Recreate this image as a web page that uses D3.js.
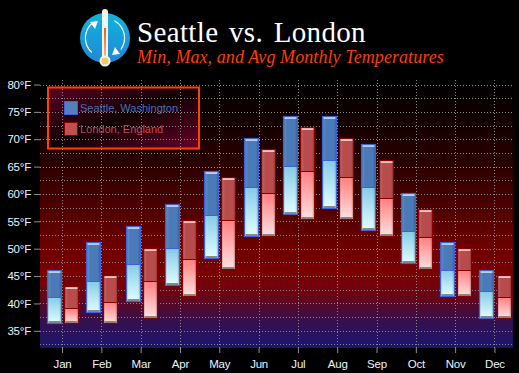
<!DOCTYPE html>
<html>
<head>
<meta charset="utf-8">
<script src="https://cdn.jsdelivr.net/npm/d3@7"></script>
<style>
html, body { margin: 0; padding: 0; background: #000; overflow: hidden; }
svg { display: block; }
text { font-family: "Liberation Sans", Arial, sans-serif; }
</style>
</head>
<body>
<svg id="chart" width="519" height="373"></svg>
<script>
const months = ['Jan', 'Feb', 'Mar', 'Apr', 'May', 'Jun', 'Jul', 'Aug', 'Sep', 'Oct', 'Nov', 'Dec'];
const seattleMin = [36, 38, 40, 43, 48, 52, 56, 57, 53, 47, 41, 37];
const seattleAvg = [41, 44, 47, 50, 56, 61, 65, 66, 61, 53, 46, 42];
const seattleMax = [46, 51, 54, 58, 64, 70, 74, 74, 69, 60, 51, 46];
const londonMin = [36, 36, 37, 41, 46, 52, 55, 55, 52, 46, 41, 37];
const londonAvg = [39, 40, 44, 48, 55, 60, 64, 63, 59, 52, 46, 41];
const londonMax = [43, 45, 50, 55, 63, 68, 72, 70, 66, 57, 50, 45];
const majorTicks = [35, 40, 45, 50, 55, 60, 65, 70, 75, 80];
const minorTicks = [32.5, 37.5, 42.5, 47.5, 52.5, 57.5, 62.5, 67.5, 72.5, 77.5];

const svg = d3.select('#chart');
const plot = { left: 40, right: 513, top: 84, bottom: 348 };

const x = d3.scaleBand().domain(months).range([42.9, 514.6]);
const y = d3.scaleLinear().domain([35, 80]).range([330.8, 84.5]);
const pair = d3.scaleBand().domain(['seattle', 'london']).range([0, x.bandwidth()]).paddingInner(0.19).paddingOuter(0.237);

const defs = svg.append('defs');

function linear(id, stops, horizontal) {
    const g = defs.append('linearGradient').attr('id', id)
        .attr('x1', 0).attr('y1', 0)
        .attr('x2', horizontal ? 1 : 0).attr('y2', horizontal ? 0 : 1);
    stops.forEach(s => g.append('stop')
        .attr('offset', s[0])
        .attr('stop-color', s[1])
        .attr('stop-opacity', s[2] === undefined ? 1 : s[2]));
}

linear('plotBg', [[0, '#000000'], [0.3, '#2a0000'], [0.62, '#6e0000'], [0.72, '#7c0000'], [0.8, '#6a0414'], [0.9, '#34104e'], [1, '#1b1670']]);
linear('seattleLow', [[0, '#85cbe8'], [1, '#e2ffff']]);
linear('londonLow', [[0, '#ff7f7f'], [1, '#ffe2e2']]);
linear('sideShade', [[0, '#000', 0.22], [0.12, '#fff', 0.1], [0.25, '#fff', 0], [0.82, '#000', 0], [1, '#000', 0.22]], true);

const legendBg = defs.append('linearGradient').attr('id', 'legendBg').attr('x1', 0).attr('y1', 0).attr('x2', 1).attr('y2', 1);
legendBg.append('stop').attr('offset', 0).attr('stop-color', '#5c0024');
legendBg.append('stop').attr('offset', 0.5).attr('stop-color', '#100004');
legendBg.append('stop').attr('offset', 1).attr('stop-color', '#680028');

const logoBg = defs.append('linearGradient').attr('id', 'logoBg').attr('x1', 0).attr('y1', 0).attr('x2', 0).attr('y2', 1);
logoBg.append('stop').attr('offset', 0).attr('stop-color', '#12b4d8');
logoBg.append('stop').attr('offset', 1).attr('stop-color', '#2088d8');
linear('mercury', [[0, '#f05a20'], [1, '#f8c060']]);

// Plot background
svg.append('rect')
    .attr('x', plot.left).attr('y', plot.top)
    .attr('width', plot.right - plot.left).attr('height', plot.bottom - plot.top)
    .attr('fill', 'url(#plotBg)');

// Axes
const yAxis = d3.axisLeft(y).tickValues(majorTicks).tickFormat(d => d + '°F').tickSize(6).tickPadding(3);
const yG = svg.append('g').attr('transform', 'translate(40,0)').call(yAxis);
const xAxis = d3.axisBottom(x).tickSize(5).tickPadding(7);
const xG = svg.append('g').attr('transform', `translate(0,${plot.bottom})`).call(xAxis);
[yG, xG].forEach(g => {
    g.select('.domain').remove();
    g.selectAll('.tick line').attr('stroke', '#909090');
    g.selectAll('.tick text').attr('fill', '#eaf4ff')
        .style('font-size', '11.5px').style('letter-spacing', '-0.2px')
        .style('font-family', '"Liberation Sans", Arial, sans-serif');
});

// Legend background sits under the grid
svg.append('rect').attr('x', 48).attr('y', 87.5).attr('width', 151).attr('height', 61)
    .attr('fill', 'url(#legendBg)');

// Grid
const grid = svg.append('g').attr('stroke', '#8a8a8a').attr('stroke-dasharray', '1 2').attr('stroke-width', 1);
grid.selectAll('line.h').data(majorTicks.concat(minorTicks)).enter().append('line')
    .attr('x1', plot.left).attr('x2', plot.right)
    .attr('y1', d => Math.round(y(d)) + 0.5).attr('y2', d => Math.round(y(d)) + 0.5);
grid.selectAll('line.v').data(months).enter().append('line')
    .attr('x1', d => Math.floor(x(d) + x.bandwidth() / 2) + 0.5)
    .attr('x2', d => Math.floor(x(d) + x.bandwidth() / 2) + 0.5)
    .attr('y1', 80).attr('y2', plot.bottom);

// Bars
function drawSeries(name, mins, avgs, maxs, border, upper, lowerFill, cap) {
    const w = Math.round(pair.bandwidth());
    const g = svg.append('g');
    months.forEach((m, i) => {
        const bx = Math.round(x(m) + pair(name)) + 0.5;
        const top = Math.round(y(maxs[i])) - 0.5;
        const mid = Math.round(y(avgs[i])) - 0.5;
        const bot = Math.round(y(mins[i])) - 1.5;
        g.append('rect').attr('x', bx).attr('y', top).attr('width', w).attr('height', mid - top).attr('fill', upper);
        g.append('rect').attr('x', bx).attr('y', mid).attr('width', w).attr('height', bot - mid).attr('fill', lowerFill);
        g.append('rect').attr('x', bx).attr('y', top).attr('width', w).attr('height', bot - top).attr('fill', 'url(#sideShade)');
        // top highlight and bottom shadow
        g.append('rect').attr('x', bx + 1).attr('y', top + 0.5).attr('width', w - 2).attr('height', 2).attr('fill', cap);
        g.append('rect').attr('x', bx + 1).attr('y', bot - 2.5).attr('width', w - 2).attr('height', 2).attr('fill', '#8a8a84');
        g.append('rect').attr('x', bx).attr('y', top).attr('width', w).attr('height', bot - top)
            .attr('fill', 'none').attr('stroke', border).attr('stroke-width', 1.2);
        g.append('line').attr('x1', bx).attr('x2', bx + w).attr('y1', mid).attr('y2', mid).attr('stroke', border);
    });
}
drawSeries('seattle', seattleMin, seattleAvg, seattleMax, '#3f62dc', '#4a7ab8', 'url(#seattleLow)', '#b8d0ee');
drawSeries('london', londonMin, londonAvg, londonMax, '#8a0000', '#b84c4c', 'url(#londonLow)', '#f0c4c4');

// Legend frame and entries
svg.append('rect').attr('x', 48).attr('y', 87.5).attr('width', 151).attr('height', 61)
    .attr('fill', 'none').attr('stroke', '#ff4000').attr('stroke-width', 2);

const legendItems = [
    { label: 'Seattle, Washington', fill: '#5580c0', stroke: '#3f62dc', text: '#4a70b8', y: 101 },
    { label: 'London, England', fill: '#c05050', stroke: '#8a0000', text: '#c04c4c', y: 122 }
];
legendItems.forEach(d => {
    svg.append('rect').attr('x', 64.5).attr('y', d.y + 0.5).attr('width', 13).attr('height', 13)
        .attr('fill', d.fill).attr('stroke', d.stroke);
    svg.append('text').attr('x', 80).attr('y', d.y + 11).attr('fill', d.text)
        .style('font-size', '11px').text(d.label);
});

// Logo
const logo = svg.append('g').attr('transform', 'translate(105,38)');
logo.append('circle').attr('r', 25).attr('fill', 'url(#logoBg)');
const arc = d3.arc().innerRadius(19).outerRadius(20.2);
logo.append('path').attr('fill', '#fff').attr('d', arc({ startAngle: -2.4, endAngle: -0.7 }));
logo.append('path').attr('fill', '#fff').attr('d', arc({ startAngle: 0.5, endAngle: 2.2 }));
logo.append('path').attr('fill', '#fff').attr('d', 'M-15,-16 L-7,-17 L-10,-9 Z');
logo.append('path').attr('fill', '#fff').attr('d', 'M15,16 L7,17 L10,9 Z');
logo.append('rect').attr('x', -3).attr('y', -29).attr('width', 6).attr('height', 50).attr('rx', 3).attr('fill', '#f4f4f4');
logo.append('rect').attr('x', -1).attr('y', -10).attr('width', 2).attr('height', 29).attr('fill', 'url(#mercury)');
logo.append('circle').attr('cy', 23).attr('r', 5.5).attr('fill', '#f4f4f4');
logo.append('circle').attr('cy', 23).attr('r', 3.5).attr('fill', '#f8c860');

// Titles
svg.append('text').attr('x', 137).attr('y', 42).attr('fill', '#fff')
    .style('font-family', '"Liberation Serif", serif').style('font-size', '29px')
    .style('letter-spacing', '0.35px').style('word-spacing', '3px')
    .text('Seattle vs. London');
svg.append('text').attr('x', 137).attr('y', 63).attr('fill', '#ff3c00')
    .style('font-family', '"Liberation Serif", serif').style('font-style', 'italic').style('font-size', '18px')
    .style('letter-spacing', '0.08px')
    .text('Min, Max, and Avg Monthly Temperatures');
</script>
</body>
</html>
